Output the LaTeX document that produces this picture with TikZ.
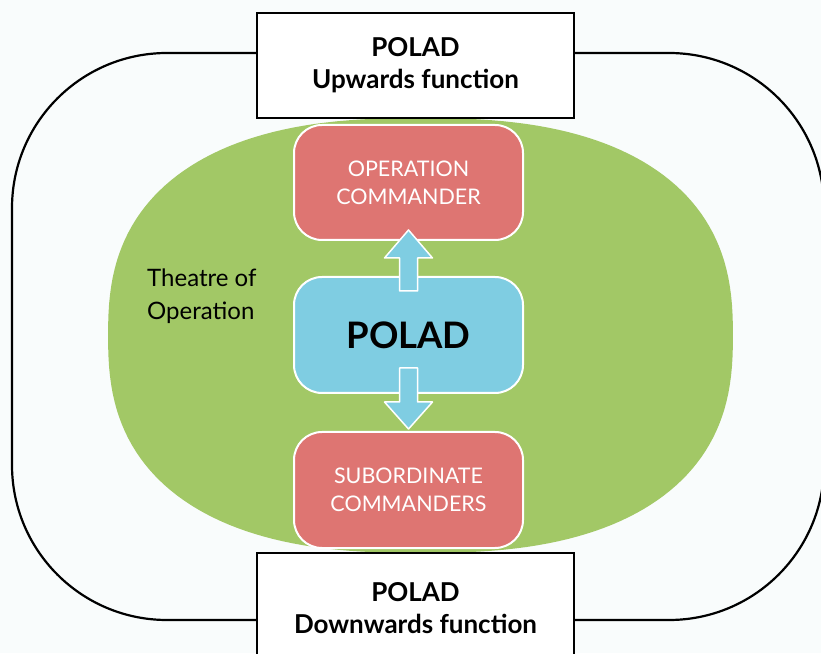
\documentclass[tikz,border=0pt]{standalone}
\usepackage{fontspec}
\setmainfont{Lato}
\usetikzlibrary{calc}
\definecolor{toegreen}{RGB}{162,200,102}
\definecolor{cmdred}{RGB}{222,117,114}
\definecolor{poladblue}{RGB}{127,205,226}
\definecolor{paper}{RGB}{249,252,252}

\begin{document}
\begin{tikzpicture}[x=1pt,y=1pt,
funcbox/.style={draw,fill=white,line width=2pt,minimum width=317pt,minimum height=105pt,align=center,font=\fontsize{26}{32}\selectfont\bfseries},
cmdbox/.style={draw=white,fill=cmdred,line width=2pt,rounded corners=28pt,minimum width=229pt,minimum height=116pt,align=center,text=white,font=\fontsize{21.5}{28}\selectfont},
barrow/.style={fill=poladblue,draw=white,line width=1.5pt,line join=round}]
\useasboundingbox[fill=paper] (0,0) rectangle (821,653);
% outer frame and theatre
\draw[line width=2.2pt,rounded corners=155pt] (12,33) rectangle (824,600);
\fill[toegreen] plot[domain=1:359,samples=180] ({420.5+312.5*cos(\x)/abs(cos(\x))^0.2},{317.5+217.5*sin(\x)/abs(sin(\x))^0.2}) -- cycle;
\node[funcbox] (up) at (415.5,587.5) {POLAD\\Upwards function};
\node[funcbox,minimum height=110pt] (down) at (415.5,45) {POLAD\\Downwards function};
\node[cmdbox,minimum height=115pt] (opc) at (408.5,470.5) {OPERATION\\COMMANDER};
\node[cmdbox,fill=poladblue,text=black,font=\fontsize{36.5}{40}\selectfont\bfseries] (polad) at (408.5,318) {POLAD};
\node[cmdbox] (sub) at (408.5,163) {SUBORDINATE\\COMMANDERS};
\node[anchor=west,align=left,inner sep=0pt,font=\fontsize{24}{33}\selectfont] (toe) at (147,356.5) {Theatre of\\Operation};
% block arrows
\draw[barrow] let \p1=($(polad.north)+(0,-15)$), \p2=($(opc.south)+(0,11)$) in
  (\x1-9pt,\y1) -- (\x1-9pt,\y2-28pt) -- (\x1-24pt,\y2-28pt) -- (\x2,\y2) -- (\x1+24pt,\y2-28pt) -- (\x1+9pt,\y2-28pt) -- (\x1+9pt,\y1) -- cycle;
\draw[barrow] let \p1=($(polad.south)+(0,26)$), \p2=($(sub.north)+(0,2)$) in
  (\x1-9pt,\y1) -- (\x1-9pt,\y2+27pt) -- (\x1-24pt,\y2+27pt) -- (\x2,\y2) -- (\x1+24pt,\y2+27pt) -- (\x1+9pt,\y2+27pt) -- (\x1+9pt,\y1) -- cycle;
\end{tikzpicture}
\end{document}
